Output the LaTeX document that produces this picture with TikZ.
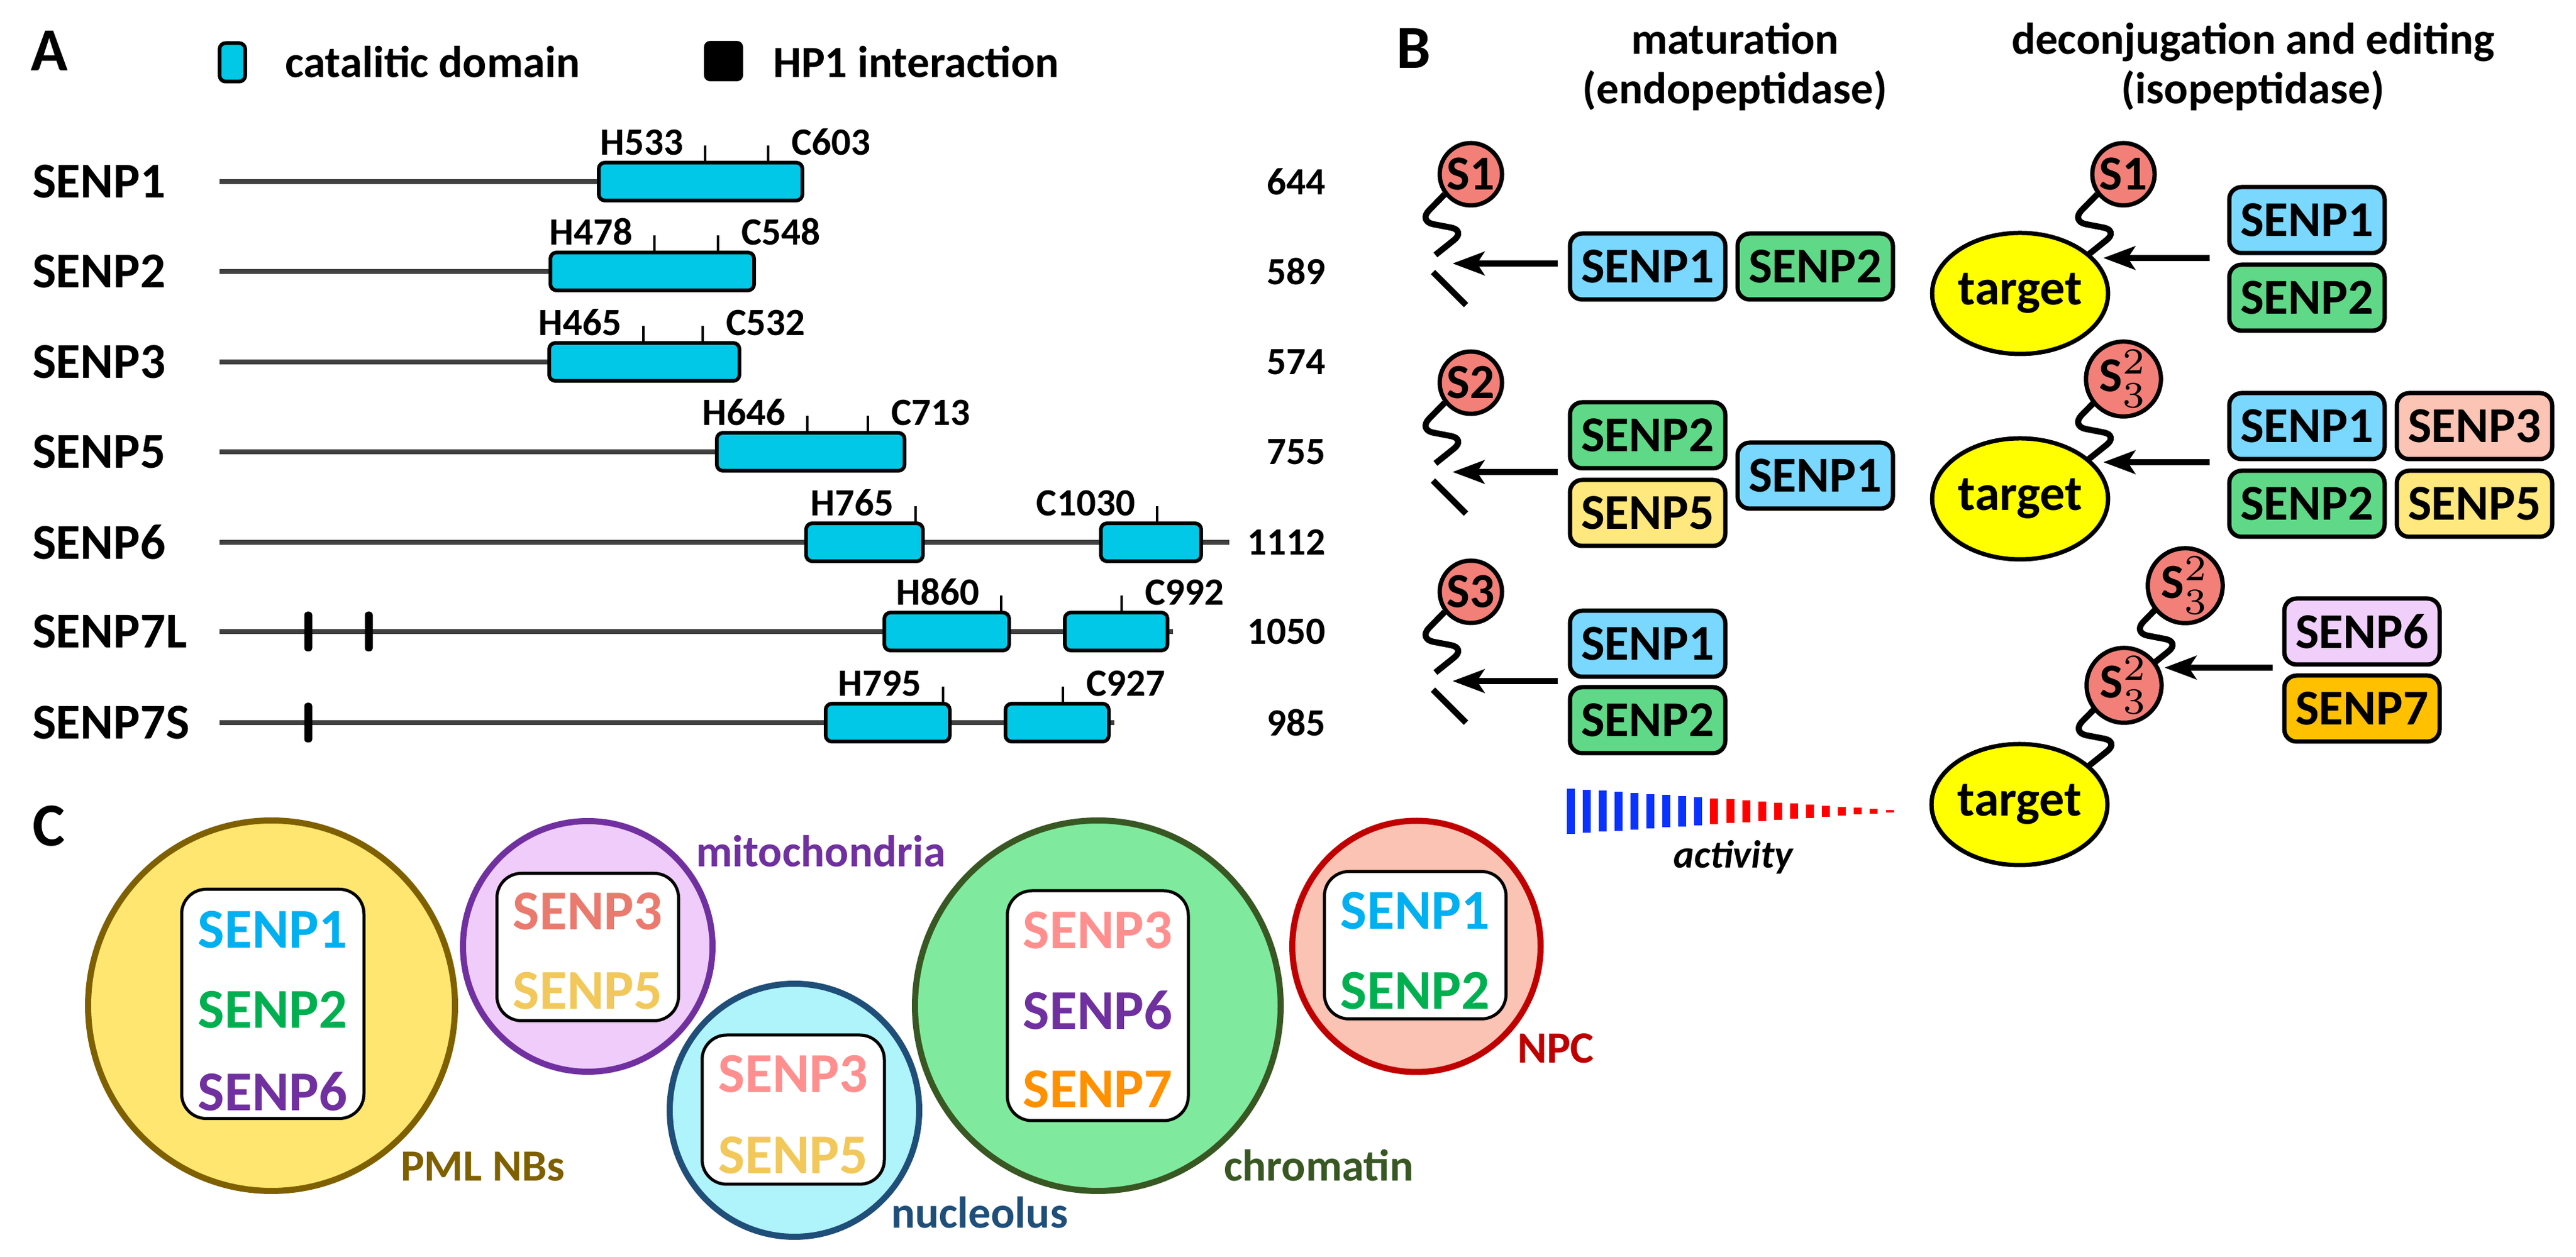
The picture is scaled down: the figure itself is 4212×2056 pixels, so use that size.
\documentclass[tikz,border=0pt]{standalone}
\usepackage{fontspec}
\setmainfont{Carlito}
\usetikzlibrary{arrows.meta,calc,shapes.geometric}
\definecolor{protgrey}{HTML}{404040}
\definecolor{domcyan}{HTML}{00C8E6}
\definecolor{bSone}{HTML}{7AD7FE}
\definecolor{bStwo}{HTML}{5FD987}
\definecolor{bSthree}{HTML}{FBC4B4}
\definecolor{bSfive}{HTML}{FFE87D}
\definecolor{bSsix}{HTML}{F0D0FA}
\definecolor{bSseven}{HTML}{FFC000}
\definecolor{sumored}{HTML}{F28078}
\definecolor{tgtyel}{HTML}{FFFF00}
\definecolor{actblue}{HTML}{0A32FF}
\definecolor{actred}{HTML}{FF0000}
\definecolor{cCone}{HTML}{00B0F0}
\definecolor{cCtwo}{HTML}{00B050}
\definecolor{cCsix}{HTML}{7030A0}
\definecolor{cCthreeA}{HTML}{EA7A6E}
\definecolor{cCthreeB}{HTML}{FF8F8F}
\definecolor{cCfive}{HTML}{F2C85B}
\definecolor{cCseven}{HTML}{FF9000}
\definecolor{pmlfill}{HTML}{FFE670}
\definecolor{pmldraw}{HTML}{7F6000}
\definecolor{mitofill}{HTML}{EFCCFA}
\definecolor{mitodraw}{HTML}{7030A0}
\definecolor{nuclfill}{HTML}{AFF3FB}
\definecolor{nucldraw}{HTML}{1F4E79}
\definecolor{chromfill}{HTML}{7FEA9E}
\definecolor{chromdraw}{HTML}{385723}
\definecolor{npcfill}{HTML}{FBC3B4}
\definecolor{npcdraw}{HTML}{C00000}
\newcommand\fsz[1]{\fontsize{#1}{#1}\selectfont\bfseries}
\newcommand\pdom[3]{\draw[dombox] (#1,{#3-31}) rectangle (#2,{#3+31});}
\newcommand\ptick[2]{\draw[sitetick] (#1,{#2-31}) -- (#1,{#2-59});}
\newcommand\hlab[4]{\node[sitelbl,anchor=base east] (#4) at ({#1-36},{#2-43}) {#3};}
\newcommand\clab[4]{\node[sitelbl,anchor=base west] (#4) at ({#1+38},{#2-43}) {#3};}
\newcommand\clabl[4]{\node[sitelbl,anchor=base east] (#4) at ({#1-36},{#2-43}) {#3};}
\newcommand\sqchain[1]{\draw[chainln] ($(#1)+(-43,33)$) -- ($(#1)+(-86,77)$) -- ($(#1)+(-8,92)$) -- ($(#1)+(-58,132)$);}
\newcommand\cutpiece[1]{\draw[chainln] ($(#1)+(-62,160)$) -- ($(#1)+(-8,214)$);}
\begin{document}
\begin{tikzpicture}[x=0.1pt,y=-0.1pt,
  every node/.style={inner sep=0pt, outer sep=0pt},
  panel/.style={font=\fsz{10}},
  rowlbl/.style={font=\fsz{8.2}},
  numlbl/.style={font=\fsz{6.3}},
  sitelbl/.style={font=\fsz{6.3}},
  leglbl/.style={font=\fsz{7.3}},
  protline/.style={draw=protgrey, line width=0.85pt},
  dombox/.style={draw=black, fill=domcyan, line width=0.6pt, rounded corners=1pt},
  sitetick/.style={draw=black, line width=0.4pt},
  hpbar/.style={fill=black, rounded corners=0.5pt},
  sbox/.style={rectangle, draw=black, line width=0.7pt, rounded corners=2pt, minimum width=25.4pt, minimum height=10.8pt, font=\fsz{8.2}},
  sumo/.style={circle, draw=black, fill=sumored, line width=0.7pt, minimum size=10.2pt, font=\fsz{8}},
  tgt/.style={ellipse, draw=black, fill=tgtyel, line width=0.7pt, minimum width=28.6pt, minimum height=19.8pt, font=\fsz{8.2}},
  chainln/.style={draw=black, line width=1pt, rounded corners=2.5pt},
  arr/.style={draw=black, line width=1pt, -{Stealth[length=5.2pt,width=3.8pt,inset=1.2pt]}},
  comp/.style={ellipse, line width=1pt},
  inbox/.style={rectangle, draw=black, fill=white, line width=0.5pt, rounded corners=4pt},
  ctext/.style={font=\fsz{9.2}},
  clbl/.style={font=\fsz{7.3}}
]
\useasboundingbox (0,0) rectangle (4212,2056);
%% ---------------- Panel A ----------------
\node[panel, anchor=base west] (pA) at (50,116) {A};
\node[fill=domcyan, draw=black, line width=0.6pt, rounded corners=1pt, minimum width=4.2pt, minimum height=6.3pt] (legdom) at (380,102) {};
\node[leglbl, anchor=base west] (legdomt) at (466,127) {catalitic domain};
\node[fill=black, rounded corners=1pt, minimum width=6.4pt, minimum height=6.6pt] (leghp) at (1183,100) {};
\node[leglbl, anchor=base west] (leghpt) at (1264,127) {HP1 interaction};
% SENP1
\node[rowlbl, anchor=west] (r1) at (53,297) {SENP1};
\draw[protline] (359,297) -- (1312,297);
\pdom{979}{1312}{297}
\ptick{1153}{297}\ptick{1256}{297}
\hlab{1153}{297}{H533}{h1}\clab{1256}{297}{C603}{c1}
\node[numlbl, anchor=east] (n1) at (2167,297) {644};
% SENP2
\node[rowlbl, anchor=west] (r2) at (53,444) {SENP2};
\draw[protline] (359,444) -- (1233,444);
\pdom{900}{1233}{444}
\ptick{1070}{444}\ptick{1174}{444}
\hlab{1070}{444}{H478}{h2}\clab{1174}{444}{C548}{c2}
\node[numlbl, anchor=east] (n2) at (2167,444) {589};
% SENP3
\node[rowlbl, anchor=west] (r3) at (53,592) {SENP3};
\draw[protline] (359,592) -- (1209,592);
\pdom{898}{1209}{592}
\ptick{1052}{592}\ptick{1149}{592}
\hlab{1052}{592}{H465}{h3}\clab{1149}{592}{C532}{c3}
\node[numlbl, anchor=east] (n3) at (2167,592) {574};
% SENP5
\node[rowlbl, anchor=west] (r5) at (53,739) {SENP5};
\draw[protline] (359,739) -- (1479,739);
\pdom{1172}{1479}{739}
\ptick{1320}{739}\ptick{1419}{739}
\hlab{1320}{739}{H646}{h5}\clab{1419}{739}{C713}{c5}
\node[numlbl, anchor=east] (n5) at (2167,739) {755};
% SENP6
\node[rowlbl, anchor=west] (r6) at (53,887) {SENP6};
\draw[protline] (359,887) -- (2010,887);
\pdom{1318}{1509}{887}\pdom{1800}{1964}{887}
\ptick{1497}{887}\ptick{1892}{887}
\hlab{1497}{887}{H765}{h6}\clabl{1892}{887}{C1030}{c6}
\node[numlbl, anchor=east] (n6) at (2167,887) {1112};
% SENP7L
\node[rowlbl, anchor=west] (r7l) at (53,1033) {SENP7L};
\draw[protline] (359,1033) -- (1918,1033);
\pdom{1446}{1650}{1033}\pdom{1741}{1909}{1033}
\ptick{1637}{1033}\ptick{1834}{1033}
\hlab{1637}{1033}{H860}{h7l}\clab{1834}{1033}{C992}{c7l}
\node[hpbar, minimum width=1.3pt, minimum height=6.5pt] (hp7la) at (504,1033) {};
\node[hpbar, minimum width=1.3pt, minimum height=6.5pt] (hp7lb) at (603,1033) {};
\node[numlbl, anchor=east] (n7l) at (2167,1033) {1050};
% SENP7S
\node[rowlbl, anchor=west] (r7s) at (53,1182) {SENP7S};
\draw[protline] (359,1182) -- (1822,1182);
\pdom{1350}{1553}{1182}\pdom{1644}{1813}{1182}
\ptick{1542}{1182}\ptick{1738}{1182}
\hlab{1542}{1182}{H795}{h7s}\clab{1738}{1182}{C927}{c7s}
\node[hpbar, minimum width=1.3pt, minimum height=6.5pt] (hp7s) at (504,1182) {};
\node[numlbl, anchor=east] (n7s) at (2167,1182) {985};
%% ---------------- Panel B ----------------
\node[panel, anchor=base west] (pB) at (2283,112) {B};
\node[leglbl, anchor=base] (tm1) at (2837,89) {maturation};
\node[leglbl, anchor=base] (tm2) at (2837,170) {(endopeptidase)};
\node[leglbl, anchor=base] (td1) at (3684,89) {deconjugation and editing};
\node[leglbl, anchor=base] (td2) at (3684,170) {(isopeptidase)};
% centres
\coordinate (cm1) at (2405,285);
\coordinate (cm2) at (2405,626);
\coordinate (cm3) at (2405,968);
\coordinate (cd1) at (3472,285);
\coordinate (cd2) at (3472,620);
\coordinate (cd3) at (3573,958);
\coordinate (cd4) at (3473,1121);
% chains
\sqchain{cm1}\cutpiece{cm1}
\sqchain{cm2}\cutpiece{cm2}
\sqchain{cm3}\cutpiece{cm3}
\sqchain{cd1}\sqchain{cd2}\sqchain{cd3}\sqchain{cd4}
% targets
\node[tgt] (t1) at (3303,480) {target};
\node[tgt] (t2) at (3303,816) {target};
\node[tgt] (t3) at (3302,1316) {target};
% SUMO circles
\node[sumo] (sm1) at (cm1) {S1};
\node[sumo] (sm2) at (cm2) {S2};
\node[sumo] (sm3) at (cm3) {S3};
\node[sumo] (sd1) at (cd1) {S1};
\node[sumo] (sd2) at (cd2) {S$^{2}_{3}$};
\node[sumo] (sd3) at (cd3) {S$^{2}_{3}$};
\node[sumo] (sd4) at (cd4) {S$^{2}_{3}$};
% SENP boxes maturation
\node[sbox, fill=bSone] (m1a) at (2694,436) {SENP1};
\node[sbox, fill=bStwo] (m1b) at (2968,436) {SENP2};
\node[sbox, fill=bStwo] (m2a) at (2694,712) {SENP2};
\node[sbox, fill=bSfive] (m2b) at (2694,839) {SENP5};
\node[sbox, fill=bSone] (m2c) at (2968,778) {SENP1};
\node[sbox, fill=bSone] (m3a) at (2694,1053) {SENP1};
\node[sbox, fill=bStwo] (m3b) at (2694,1178) {SENP2};
% SENP boxes deconjugation
\node[sbox, fill=bSone] (d1a) at (3772,360) {SENP1};
\node[sbox, fill=bStwo] (d1b) at (3772,487) {SENP2};
\node[sbox, fill=bSone] (d2a) at (3772,697) {SENP1};
\node[sbox, fill=bSthree] (d2b) at (4046,697) {SENP3};
\node[sbox, fill=bStwo] (d2c) at (3772,824) {SENP2};
\node[sbox, fill=bSfive] (d2d) at (4046,824) {SENP5};
\node[sbox, fill=bSsix] (d3a) at (3862,1033) {SENP6};
\node[sbox, fill=bSseven] (d3b) at (3862,1159) {SENP7};
% arrows
\coordinate (am1s) at (2547,431); \coordinate (am1e) at (2375,431);
\coordinate (am2s) at (2547,772); \coordinate (am2e) at (2375,772);
\coordinate (am3s) at (2547,1114); \coordinate (am3e) at (2375,1114);
\coordinate (ad1s) at (3613,422); \coordinate (ad1e) at (3439,422);
\coordinate (ad2s) at (3613,756); \coordinate (ad2e) at (3439,756);
\coordinate (ad3s) at (3716,1092); \coordinate (ad3e) at (3539,1092);
\draw[arr] (am1s) -- (am1e);
\draw[arr] (am2s) -- (am2e);
\draw[arr] (am3s) -- (am3e);
\draw[arr] (ad1s) -- (ad1e);
\draw[arr] (ad2s) -- (ad2e);
\draw[arr] (ad3s) -- (ad3e);
% activity gradient
\foreach \i in {0,...,20}{
  \pgfmathsetmacro\bx{2568+26.1*\i}
  \pgfmathsetmacro\bh{37-1.75*\i}
  \ifnum\i<9 \def\bc{actblue}\else\def\bc{actred}\fi
  \fill[\bc] ({\bx-6.5},{1327-\bh}) rectangle ({\bx+6.5},{1327+\bh});
}
\node[font=\fontsize{6.4}{6.4}\selectfont\bfseries\itshape, anchor=base] (act) at (2834,1420) {activity};
%% ---------------- Panel C ----------------
\node[panel, anchor=base west] (pC) at (53,1384) {C};
\node[comp, fill=pmlfill, draw=pmldraw, minimum width=60pt, minimum height=60.6pt] (pml) at (444,1645) {};
\node[comp, fill=mitofill, draw=mitodraw, minimum width=40.8pt, minimum height=41pt] (mito) at (961,1548) {};
\node[comp, fill=nuclfill, draw=nucldraw, minimum width=40.8pt, minimum height=41.4pt] (nucl) at (1299,1816) {};
\node[comp, fill=chromfill, draw=chromdraw, minimum width=59.8pt, minimum height=60.6pt] (chrom) at (1795,1645) {};
\node[comp, fill=npcfill, draw=npcdraw, minimum width=40.6pt, minimum height=41.1pt] (npc) at (2316,1548) {};
\node[inbox, minimum width=29.8pt, minimum height=37.5pt] (pmlbox) at (446,1642) {};
\node[inbox, minimum width=29.7pt, minimum height=24.1pt] (mitobox) at (961,1549) {};
\node[inbox, minimum width=29.8pt, minimum height=24.4pt] (nuclbox) at (1297,1815) {};
\node[inbox, minimum width=29.6pt, minimum height=37.6pt] (chrombox) at (1795,1645) {};
\node[inbox, minimum width=29.7pt, minimum height=24.1pt] (npcbox) at (2314,1546) {};
\node[ctext, text=cCone] (pml1) at (446,1521) {SENP1};
\node[ctext, text=cCtwo] (pml2) at (446,1652) {SENP2};
\node[ctext, text=cCsix] (pml6) at (446,1785) {SENP6};
\node[ctext, text=cCthreeA] (mito3) at (961,1491) {SENP3};
\node[ctext, text=cCfive] (mito5) at (961,1621) {SENP5};
\node[ctext, text=cCthreeB] (nucl3) at (1297,1757) {SENP3};
\node[ctext, text=cCfive] (nucl5) at (1297,1890) {SENP5};
\node[ctext, text=cCthreeB] (chrom3) at (1795,1522) {SENP3};
\node[ctext, text=cCsix] (chrom6) at (1795,1652) {SENP6};
\node[ctext, text=cCseven] (chrom7) at (1795,1782) {SENP7};
\node[ctext, text=cCone] (npc1) at (2314,1490) {SENP1};
\node[ctext, text=cCtwo] (npc2) at (2314,1621) {SENP2};
\node[clbl, text=pmldraw, anchor=base west] (pmll) at (655,1932) {PML NBs};
\node[clbl, text=mitodraw, anchor=base west] (mitol) at (1138,1418) {mitochondria};
\node[clbl, text=nucldraw, anchor=base west] (nucll) at (1457,2009) {nucleolus};
\node[clbl, text=chromdraw, anchor=base west] (chroml) at (2001,1932) {chromatin};
\node[clbl, text=npcdraw, anchor=base west] (npcl) at (2481,1739) {NPC};
\end{tikzpicture}
\end{document}
